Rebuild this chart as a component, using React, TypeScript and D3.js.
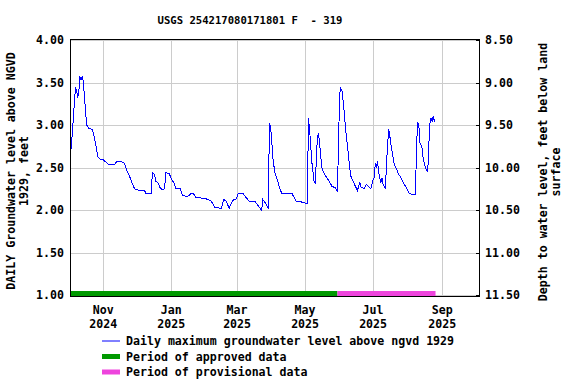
import { useRef, useEffect } from 'react';
import * as d3 from 'd3';

const TITLE = 'USGS 254217080171801 F  - 319';

// daily maximum level (ft above NGVD 1929)
const DATES = [
  '2024-10-03', '2024-10-04', '2024-10-05', '2024-10-06', '2024-10-07', '2024-10-08', '2024-10-09',
  '2024-10-10', '2024-10-11', '2024-10-12', '2024-10-13', '2024-10-14', '2024-10-15', '2024-10-16',
  '2024-10-17', '2024-10-19', '2024-10-22', '2024-10-23', '2024-10-24', '2024-10-25', '2024-10-26',
  '2024-10-27', '2024-10-29', '2024-11-01', '2024-11-04', '2024-11-06', '2024-11-08', '2024-11-11',
  '2024-11-13', '2024-11-17', '2024-11-20', '2024-11-21', '2024-11-25', '2024-11-28', '2024-11-29',
  '2024-12-03', '2024-12-08', '2024-12-09', '2024-12-14', '2024-12-15', '2024-12-17', '2024-12-18',
  '2024-12-20', '2024-12-22', '2024-12-24', '2024-12-26', '2024-12-27', '2024-12-30', '2025-01-01',
  '2025-01-04', '2025-01-05', '2025-01-09', '2025-01-11', '2025-01-15', '2025-01-17', '2025-01-19',
  '2025-01-21', '2025-01-23', '2025-01-29', '2025-02-03', '2025-02-06', '2025-02-09', '2025-02-15',
  '2025-02-17', '2025-02-19', '2025-02-22', '2025-02-24', '2025-02-26', '2025-02-28', '2025-03-02',
  '2025-03-06', '2025-03-09', '2025-03-12', '2025-03-17', '2025-03-20', '2025-03-23', '2025-03-24',
  '2025-03-26', '2025-03-29', '2025-03-30', '2025-03-31', '2025-04-01', '2025-04-02', '2025-04-03',
  '2025-04-04', '2025-04-06', '2025-04-08', '2025-04-10', '2025-04-19', '2025-04-21', '2025-04-23',
  '2025-04-26', '2025-04-29', '2025-05-03', '2025-05-04', '2025-05-05', '2025-05-06', '2025-05-07',
  '2025-05-08', '2025-05-09', '2025-05-10', '2025-05-11', '2025-05-12', '2025-05-13', '2025-05-14',
  '2025-05-15', '2025-05-16', '2025-05-18', '2025-05-20', '2025-05-23', '2025-05-25', '2025-05-28',
  '2025-05-30', '2025-06-01', '2025-06-02', '2025-06-03', '2025-06-04', '2025-06-05', '2025-06-06',
  '2025-06-07', '2025-06-08', '2025-06-09', '2025-06-10', '2025-06-11', '2025-06-13', '2025-06-15',
  '2025-06-17', '2025-06-19', '2025-06-20', '2025-06-23', '2025-06-25', '2025-06-26', '2025-06-29',
  '2025-07-01', '2025-07-02', '2025-07-03', '2025-07-04', '2025-07-05', '2025-07-06', '2025-07-08',
  '2025-07-09', '2025-07-10', '2025-07-12', '2025-07-13', '2025-07-14', '2025-07-15', '2025-07-16',
  '2025-07-17', '2025-07-18', '2025-07-19', '2025-07-20', '2025-07-22', '2025-07-24', '2025-07-26',
  '2025-07-28', '2025-07-31', '2025-08-02', '2025-08-05', '2025-08-08', '2025-08-09', '2025-08-10',
  '2025-08-11', '2025-08-12', '2025-08-14', '2025-08-15', '2025-08-17', '2025-08-18', '2025-08-19',
  '2025-08-20', '2025-08-21', '2025-08-22', '2025-08-23', '2025-08-24', '2025-08-25',
];
const LEVELS = [
  2.71, 2.87, 3.06, 3.26, 3.44, 3.41, 3.32,
  3.39, 3.57, 3.53, 3.57, 3.52, 3.34, 3.18,
  3.00, 2.96, 2.95, 2.91, 2.85, 2.78, 2.71,
  2.63, 2.60, 2.59, 2.555, 2.53, 2.54, 2.535,
  2.57, 2.57, 2.55, 2.50, 2.38, 2.28, 2.25,
  2.23, 2.23, 2.20, 2.20, 2.44, 2.42, 2.34,
  2.32, 2.26, 2.24, 2.25, 2.44, 2.43, 2.37,
  2.30, 2.25, 2.25, 2.17, 2.16, 2.17, 2.20,
  2.19, 2.145, 2.14, 2.125, 2.10, 2.03, 2.02,
  2.125, 2.105, 2.02, 2.09, 2.125, 2.125, 2.195,
  2.20, 2.145, 2.105, 2.10, 2.05, 1.995, 2.125,
  2.09, 2.015, 3.02, 2.98, 2.83, 2.62, 2.52,
  2.44, 2.36, 2.26, 2.20, 2.20, 2.15, 2.105,
  2.10, 2.09, 2.075, 3.08, 2.95, 2.77, 2.57,
  2.46, 2.34, 2.31, 2.555, 2.85, 2.90, 2.79,
  2.63, 2.50, 2.43, 2.39, 2.33, 2.28, 2.26,
  2.22, 3.375, 3.43, 3.41, 3.30, 3.16, 3.00,
  2.87, 2.75, 2.63, 2.50, 2.40, 2.34, 2.28,
  2.23, 2.33, 2.27, 2.25, 2.30, 2.29, 2.25,
  2.36, 2.38, 2.555, 2.50, 2.57, 2.44, 2.32,
  2.38, 2.30, 2.26, 2.52, 2.77, 2.95, 2.87,
  2.77, 2.69, 2.61, 2.535, 2.48, 2.42, 2.38,
  2.32, 2.26, 2.20, 2.18, 2.18, 2.77, 3.03,
  3.00, 2.79, 2.73, 2.59, 2.50, 2.46, 2.45,
  2.77, 3.02, 3.08, 3.04, 3.11, 3.04,
];

const APPROVED = ['2024-10-03', '2025-05-30'];
const PROVISIONAL = ['2025-05-30', '2025-08-26'];

const X_DOMAIN = ['2024-10-03', '2025-10-04'];
const X_TICKS = ['2024-11-01', '2025-01-01', '2025-03-01', '2025-05-01', '2025-07-01', '2025-09-01'];
const Y_TICKS = [1.0, 1.5, 2.0, 2.5, 3.0, 3.5, 4.0];
const LAND_SURFACE = 12.5; // depth = land surface - level

const LEGEND = [
  { label: 'Daily maximum groundwater level above ngvd 1929', color: '#0000ff', width: 1 },
  { label: 'Period of approved data', color: '#009900', width: 5 },
  { label: 'Period of provisional data', color: '#ee44dd', width: 5 },
];

const FONT = '"DejaVu Sans Mono", monospace';

export default function App() {
  const svgRef = useRef<SVGSVGElement>(null);

  useEffect(() => {
    if (!svgRef.current) return;
    const width = 576;
    const height = 384;
    const margin = { top: 40, right: 97, bottom: 88, left: 71 };

    const svg = d3.select(svgRef.current);
    svg.selectAll('*').remove();

    const parse = d3.utcParse('%Y-%m-%d');
    const x = d3.scaleUtc()
      .domain(X_DOMAIN.map(d => parse(d)!))
      .range([margin.left, width - margin.right]);
    const y = d3.scaleLinear().domain([1, 4]).range([height - margin.bottom - 1, margin.top]);
    const yDepth = d3.scaleLinear().domain([LAND_SURFACE - 1, LAND_SURFACE - 4]).range(y.range());

    svg.append('rect').attr('width', width).attr('height', height).attr('fill', 'white');

    // grid
    svg.append('g').selectAll('line').data(Y_TICKS).join('line')
      .attr('x1', margin.left).attr('x2', width - margin.right)
      .attr('y1', d => Math.round(y(d)) + 0.5).attr('y2', d => Math.round(y(d)) + 0.5)
      .attr('stroke', '#cccccc');
    svg.append('g').selectAll('line').data(X_TICKS).join('line')
      .attr('x1', d => Math.round(x(parse(d)!)) + 0.5).attr('x2', d => Math.round(x(parse(d)!)) + 0.5)
      .attr('y1', margin.top).attr('y2', height - margin.bottom)
      .attr('stroke', '#cccccc');

    // approval periods
    const barY = y(1) - 1.5;
    [[APPROVED, '#009900'], [PROVISIONAL, '#ee44dd']].forEach(([range, color]) => {
      const r = range as string[];
      svg.append('line')
        .attr('x1', x(parse(r[0])!)).attr('x2', x(parse(r[1])!))
        .attr('y1', barY).attr('y2', barY)
        .attr('stroke', color as string).attr('stroke-width', 5);
    });

    // level series
    const pts = DATES.map((d, i) => [parse(d)!, LEVELS[i]] as [Date, number]);
    const line = d3.line<[Date, number]>().x(d => x(d[0])).y(d => y(d[1]));
    svg.append('path').datum(pts)
      .attr('d', line)
      .attr('fill', 'none').attr('stroke', '#0000ff').attr('stroke-width', 1)
      .attr('shape-rendering', 'crispEdges');

    // frame
    svg.append('rect')
      .attr('x', margin.left - 0.5).attr('y', margin.top - 0.5)
      .attr('width', width - margin.left - margin.right + 1)
      .attr('height', height - margin.top - margin.bottom + 1)
      .attr('fill', 'none').attr('stroke', 'black');

    // right axis inner ticks
    svg.append('g').selectAll('line').data(Y_TICKS).join('line')
      .attr('x1', width - margin.right - 3).attr('x2', width - margin.right)
      .attr('y1', d => Math.round(yDepth(LAND_SURFACE - d)) + 0.5)
      .attr('y2', d => Math.round(yDepth(LAND_SURFACE - d)) + 0.5)
      .attr('stroke', 'black');

    const text = (g: d3.Selection<any, any, any, any>) =>
      g.attr('font-family', FONT).attr('font-weight', 'bold').attr('font-size', '11.6px').attr('fill', 'black');

    // left tick labels
    svg.append('g').selectAll('text').data(Y_TICKS).join('text')
      .call(text)
      .attr('x', 64).attr('y', d => y(d) + 4)
      .attr('text-anchor', 'end')
      .text(d => d.toFixed(2));

    // right tick labels
    svg.append('g').selectAll('text').data(Y_TICKS).join('text')
      .call(text)
      .attr('x', 485).attr('y', d => yDepth(LAND_SURFACE - d) + 4)
      .text(d => (LAND_SURFACE - d).toFixed(2));

    // x tick labels
    const monthFmt = d3.utcFormat('%b');
    const yearFmt = d3.utcFormat('%Y');
    const xt = svg.append('g').selectAll('g').data(X_TICKS).join('g');
    xt.append('text').call(text)
      .attr('x', d => x(parse(d)!)).attr('y', 314).attr('text-anchor', 'middle')
      .text(d => monthFmt(parse(d)!));
    xt.append('text').call(text)
      .attr('x', d => x(parse(d)!)).attr('y', 328).attr('text-anchor', 'middle')
      .text(d => yearFmt(parse(d)!));

    // title
    svg.append('text').call(text)
      .attr('font-size', '10.6px')
      .attr('x', 250).attr('y', 24).attr('text-anchor', 'middle')
      .attr('xml:space', 'preserve')
      .text(TITLE);

    // axis titles
    const yl = svg.append('text').call(text)
      .attr('text-anchor', 'middle')
      .attr('transform', 'translate(15,171) rotate(-90)');
    yl.append('tspan').attr('x', 0).attr('y', 0).text('DAILY Groundwater level above NGVD');
    yl.append('tspan').attr('x', 0).attr('y', 13).text('1929, feet');

    const yr = svg.append('text').call(text)
      .attr('text-anchor', 'middle')
      .attr('transform', 'translate(547,172) rotate(-90)');
    yr.append('tspan').attr('x', 0).attr('y', 0).text('Depth to water level, feet below land');
    yr.append('tspan').attr('x', 0).attr('y', 13).text('surface');

    // legend
    LEGEND.forEach((item, i) => {
      const ly = 341 + i * 15.5;
      svg.append('line')
        .attr('x1', 102).attr('x2', 120).attr('y1', ly).attr('y2', ly)
        .attr('stroke', item.color).attr('stroke-width', item.width);
      svg.append('text').call(text)
        .attr('x', 126).attr('y', ly + 4)
        .text(item.label);
    });
  }, []);

  return (
    <svg
      ref={svgRef}
      width={576}
      height={384}
      style={{ position: 'absolute', left: 0, top: 0 }}
    />
  );
}
